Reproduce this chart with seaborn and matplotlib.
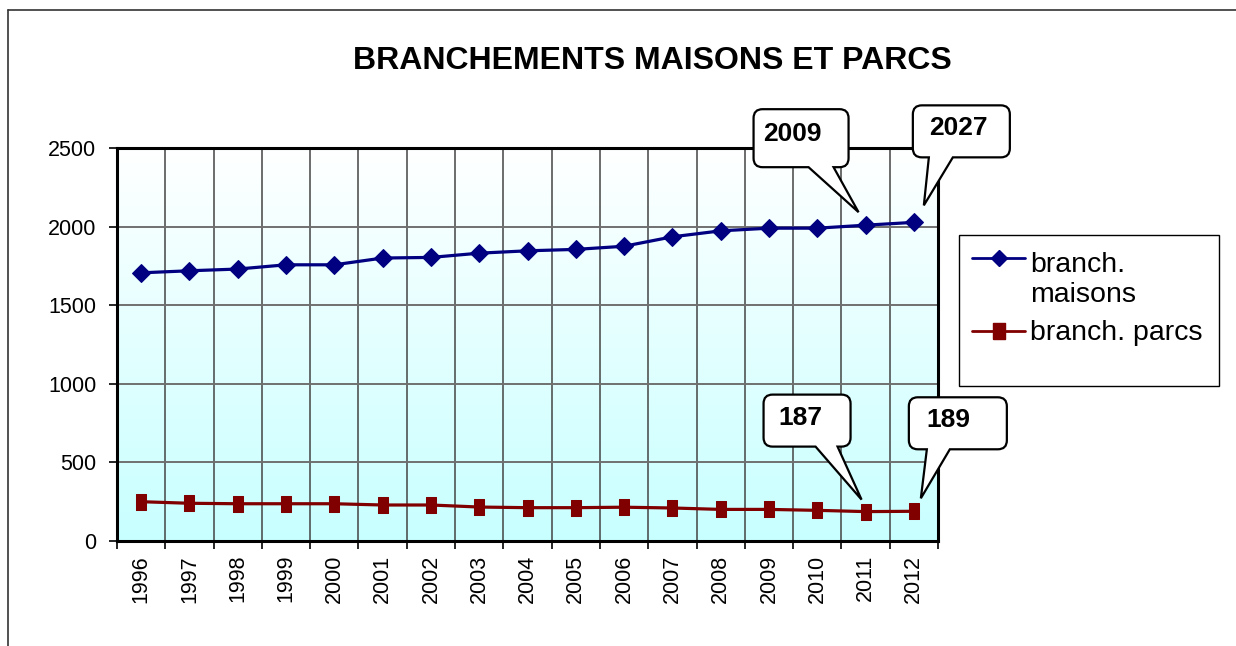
import numpy as np
import pandas as pd
import matplotlib
matplotlib.use('Agg')
import matplotlib.pyplot as plt
import matplotlib.transforms as mtransforms
from matplotlib.path import Path
from matplotlib.patches import PathPatch, Rectangle
from matplotlib.lines import Line2D
import seaborn as sns

# data
years = list(range(1996, 2013))
maisons = [1706, 1719, 1730, 1757, 1757, 1800, 1804, 1831, 1846, 1855,
           1875, 1935, 1973, 1990, 1990, 2009, 2027]
parcs = [250, 240, 237, 237, 237, 229, 229, 216, 212, 212,
         215, 210, 201, 201, 195, 187, 189]
series_labels = ['branch.\nmaisons', 'branch. parcs']
title = 'BRANCHEMENTS MAISONS ET PARCS'

NAVY = '#000080'
MAROON = '#800000'

sns.set_style('white')
plt.rcParams['font.family'] = ['Liberation Sans', 'DejaVu Sans']
plt.rcParams.update({'text.color': 'black', 'xtick.color': 'black',
                     'ytick.color': 'black', 'axes.labelcolor': 'black'})

W, H = 1236, 646
fig = plt.figure(figsize=(W / 100, H / 100), dpi=100)
ax = fig.add_axes([117 / W, 1 - 541 / H, 821 / W, 393 / H])

# gradient background, white at top -> light cyan at bottom
grad = np.linspace(0, 1, 256).reshape(-1, 1)
top = np.array([1.0, 1.0, 1.0])
bot = np.array([200, 255, 255]) / 255
img = top + (bot - top) * grad[:, :, None]
ax.imshow(img, extent=[0, 1, 0, 1], transform=ax.transAxes, aspect='auto',
          origin='upper', zorder=0)

df = pd.DataFrame({'year': years, 'maisons': maisons, 'parcs': parcs})
sns.lineplot(data=df, x='year', y='maisons', ax=ax, color=NAVY, lw=2.3,
             marker='D', markersize=9.5, markeredgecolor=NAVY, zorder=4)
rect_marker = [(-2, -3), (2, -3), (2, 3), (-2, 3), (-2, -3)]
sns.lineplot(data=df, x='year', y='parcs', ax=ax, color=MAROON, lw=2.3,
             marker=rect_marker, markersize=11, markeredgecolor=MAROON, zorder=4)

ax.set_xlim(years[0] - 0.5, years[-1] + 0.5)
ax.set_ylim(0, 2500)
ax.set_yticks(np.arange(0, 2501, 500))
ax.set_xticks(years)
ax.set_xticklabels([str(y) for y in years], rotation=90)
ax.set_xticks(np.arange(years[0] - 0.5, years[-1] + 1, 1), minor=True)
ax.set_xlabel('')
ax.set_ylabel('')
ax.tick_params(axis='x', which='major', length=0, pad=10, labelsize=15.5)
ax.tick_params(axis='x', which='minor', length=6, width=1.2, color='black',
               direction='out', bottom=True)
ax.tick_params(axis='y', length=6, width=1.2, color='black', direction='out',
               left=True, pad=9, labelsize=15.5)
ax.grid(False)
ax.xaxis.grid(True, which='minor', color='#444444', lw=1.1, zorder=1)
ax.yaxis.grid(True, which='major', color='#707070', lw=1.4, zorder=1)
ax.set_axisbelow(True)
for s in ax.spines.values():
    s.set_visible(True)
    s.set_color('black')
    s.set_linewidth(2.2)
    s.set_zorder(5)


def callout(x, y, text, box, base, tip, txt):
    # shape given in pixels relative to the data point (y up)
    x0, x1, y0, y1 = box
    b0, b1 = base
    r = 9
    verts = [(b1, y0), tip, (b0, y0), (x0 + r, y0),
             (x0, y0), (x0, y0 + r), (x0, y1 - r),
             (x0, y1), (x0 + r, y1), (x1 - r, y1),
             (x1, y1), (x1, y1 - r), (x1, y0 + r),
             (x1, y0), (x1 - r, y0), (b1, y0)]
    codes = [Path.MOVETO, Path.LINETO, Path.LINETO, Path.LINETO,
             Path.CURVE3, Path.CURVE3, Path.LINETO,
             Path.CURVE3, Path.CURVE3, Path.LINETO,
             Path.CURVE3, Path.CURVE3, Path.LINETO,
             Path.CURVE3, Path.CURVE3, Path.CLOSEPOLY]
    tr = mtransforms.Affine2D() + mtransforms.ScaledTranslation(x, y, ax.transData)
    ax.add_patch(PathPatch(Path(verts, codes), transform=tr, fc='white',
                           ec='black', lw=1.6, clip_on=False, zorder=6))
    ax.annotate(text, xy=(x, y), xytext=txt, textcoords='offset pixels',
                ha='left', va='center', fontsize=19, fontweight='bold',
                color='black', zorder=7, annotation_clip=False)


i11, i12 = years.index(2011), years.index(2012)
callout(years[i11], maisons[i11], str(maisons[i11]),
        (-112, -17, 58, 116), (-57, -32), (-7, 13), (-102, 91))
callout(years[i12], maisons[i12], str(maisons[i12]),
        (-1, 96, 65, 117), (15, 39), (10, 17), (15, 94))
callout(years[i11], parcs[i11], str(parcs[i11]),
        (-102, -15, 65, 117), (-50, -28), (-4, 12), (-87, 94))
callout(years[i12], parcs[i12], str(parcs[i12]),
        (-5, 93, 62, 114), (13, 36), (7, 13), (13, 91))

# legend, drawn by hand so the marker sits on the first label line
fig.add_artist(Rectangle((959 / W, 1 - 386 / H), 260 / W, 151 / H,
                         transform=fig.transFigure, fill=False,
                         ec='black', lw=1.0))
legend_styles = [dict(color=NAVY, marker='D', markersize=8),
                 dict(color=MAROON, marker=rect_marker, markersize=12)]
first_baselines = [267, 340]
line_step = 35
for label, style, base in zip(series_labels, legend_styles, first_baselines):
    yh = 1 - (base - 9) / H
    fig.add_artist(Line2D([972 / W, 998.5 / W, 1025 / W], [yh, yh, yh], lw=2,
                          transform=fig.transFigure, **style,
                          markevery=[1], markeredgecolor=style['color']))
    last_base = base + line_step * label.count('\n')
    fig.text(1030 / W, 1 - last_base / H, label, ha='left', va='baseline',
             fontsize=20.5, linespacing=1.2)

fig.text(652 / W, 1 - 61 / H, title, ha='center', va='center',
         fontsize=23, fontweight='bold')

# outer chart border
fig.add_artist(Line2D([8 / W, 8 / W], [0, 1 - 10 / H], color='#333333',
                      lw=1.2, transform=fig.transFigure))
fig.add_artist(Line2D([8 / W, 1], [1 - 10 / H, 1 - 10 / H], color='#333333',
                      lw=1.2, transform=fig.transFigure))

fig.savefig('out.png', dpi=100)
